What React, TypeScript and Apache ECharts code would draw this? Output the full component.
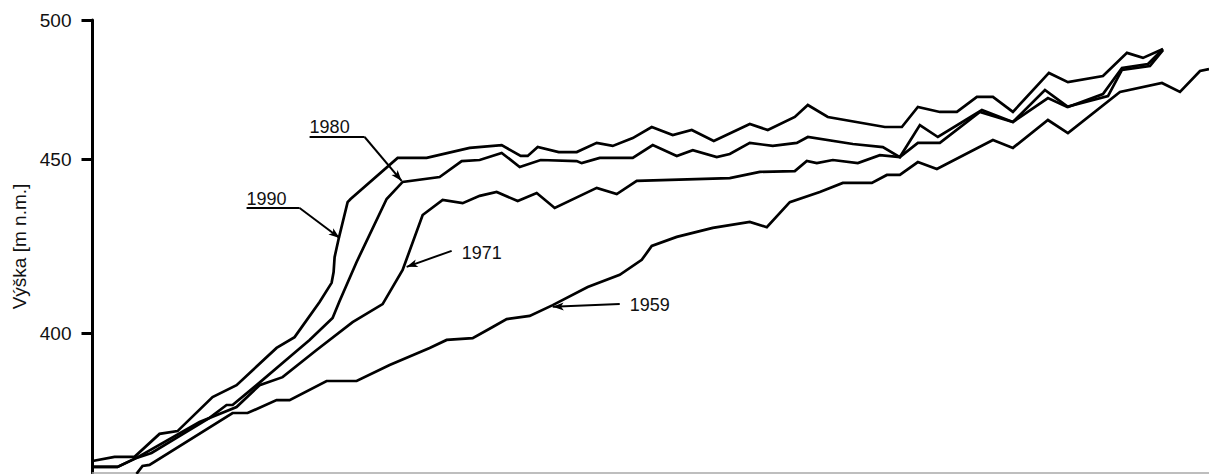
import { useEffect, useRef } from "react";
import * as echarts from "echarts";

// Vertical scale of the original figure is not uniform: 400–450 is drawn larger than 450–500.
const Y_TICKS = [400, 450, 500];
const Y_BREAK = 450;
const UPPER_RATIO = 0.8006;
const Y_MIN = 359.86;
const Y_MAX = 500;
const X_MAX = 1116;

const AXIS_NAME = "Výška [m n.m.]";

// [distance along profile, height m n.m.]
const profile1959: [number, number][] = [
  [44, 359.6], [50, 361.9], [57, 362.2], [140, 377.1], [155, 377.1], [184, 380.8], [197, 380.8],
  [234, 386.3], [264, 386.3], [297, 390.9], [337, 395.8], [354, 398.1], [380, 398.6], [400, 401.8],
  [414, 404.1], [437, 405.0], [460, 408.1], [495, 413.3], [527, 416.8], [549, 421.1], [559, 425.1],
  [584, 427.7], [620, 430.3], [657, 432.0], [674, 430.5], [697, 437.7], [727, 440.6], [750, 443.2],
  [779, 443.2], [794, 445.5], [807, 445.5], [825, 449.2], [844, 447.2], [900, 456.9], [920, 454.1],
  [955, 464.1], [975, 459.4], [1027, 474.2], [1069, 477.4], [1087, 474.2], [1107, 481.7], [1116, 482.4],
];

const profile1971: [number, number][] = [
  [0, 361.6], [25, 361.6], [44, 364.2], [107, 374.5], [144, 378.8], [167, 385.1], [190, 387.4],
  [224, 395.2], [260, 403.2], [290, 408.4], [310, 418.2], [330, 434.0], [350, 438.3], [370, 437.4],
  [387, 439.5], [404, 440.6], [425, 438.0], [444, 440.3], [462, 436.0], [504, 441.8], [524, 440.0],
  [544, 443.8], [637, 444.6], [667, 446.4], [702, 446.6], [714, 449.5], [724, 448.9], [740, 449.8],
  [765, 448.9], [787, 451.5], [807, 450.8], [825, 455.9], [847, 455.9], [887, 467.0], [920, 463.4],
  [955, 472.0], [974, 468.8], [1015, 472.7], [1029, 482.1], [1057, 483.5], [1070, 489.2],
];

const profile1980: [number, number][] = [
  [0, 361.6], [25, 361.6], [44, 364.2], [59, 365.6], [117, 375.7], [134, 379.4], [140, 379.4],
  [164, 385.1], [197, 393.2], [217, 398.1], [240, 404.4], [247, 409.3], [264, 420.5], [294, 438.6],
  [310, 443.5], [347, 444.9], [369, 449.5], [387, 449.8], [409, 452.3], [427, 447.8], [448, 449.8],
  [484, 449.5], [489, 448.9], [507, 450.5], [540, 450.5], [560, 455.1], [584, 451.2], [600, 453.3],
  [624, 450.8], [637, 451.9], [657, 455.9], [680, 454.8], [704, 455.9], [715, 458.0], [760, 455.5],
  [790, 454.4], [807, 450.8], [827, 462.3], [845, 458.0], [889, 467.7], [920, 463.4], [952, 474.9],
  [975, 468.8], [1010, 473.4], [1029, 482.8], [1055, 484.2], [1070, 489.6],
];

const profile1990: [number, number][] = [
  [0, 363.3], [22, 364.5], [42, 364.5], [67, 371.1], [85, 371.9], [120, 381.7], [144, 385.1],
  [184, 395.8], [202, 398.9], [227, 409.0], [239, 414.5], [241, 417.6], [242, 421.9], [246, 427.1],
  [255, 437.7], [258, 438.6], [305, 450.5], [334, 450.5], [377, 454.1], [409, 455.1], [428, 451.2],
  [435, 451.2], [445, 454.4], [466, 452.6], [484, 452.6], [504, 455.9], [520, 454.8], [540, 457.6],
  [559, 461.6], [580, 458.7], [599, 460.5], [621, 456.6], [657, 462.7], [675, 460.5], [702, 465.2],
  [715, 469.5], [735, 465.2], [792, 461.6], [809, 461.6], [825, 468.8], [847, 467.0], [864, 467.0],
  [884, 472.4], [900, 472.4], [920, 467.0], [956, 481.0], [975, 477.7], [1010, 479.9], [1034, 488.2],
  [1050, 486.4], [1070, 489.6],
];

const yearNames = ["1959", "1971", "1980", "1990"];
const profiles = [profile1959, profile1971, profile1980, profile1990];

// annotation text anchors (left edge, vertical centre)
const labelAnchors: [number, number][] = [
  [537, 408.1],
  [369, 423.2],
  [217, 461.6],
  [154, 438.7],
];
// underline segments under labels
const underlines: [[number, number], [number, number]][] = [
  [[217, 458.0], [272, 458.0]],
  [[154, 436.0], [207, 436.0]],
];
// arrows: from -> to (arrow head at "to")
const arrows: [[number, number], [number, number]][] = [
  [[527, 408.4], [460, 407.6]],
  [[359, 423.7], [314, 419.1]],
  [[272, 458.0], [309, 443.8]],
  [[207, 436.0], [247, 427.4]],
];

const toAxis = (v: number) => (v <= Y_BREAK ? v : Y_BREAK + (v - Y_BREAK) * UPPER_RATIO);
const fromAxis = (a: number) => (a <= Y_BREAK ? a : Y_BREAK + (a - Y_BREAK) / UPPER_RATIO);
const pt = (p: [number, number]) => [p[0], toAxis(p[1])];

const FONT = "'Liberation Sans', Arial, sans-serif";

export default function App() {
  const ref = useRef<HTMLDivElement>(null);
  useEffect(() => {
    if (!ref.current) return;
    const chart = echarts.init(ref.current, undefined, { renderer: "svg" });
    const lineSeries = profiles.map((p, i) => ({
      name: yearNames[i],
      type: "line",
      data: p.map(pt),
      symbol: "none",
      silent: true,
      lineStyle: { color: "#000", width: 2.7, join: "miter" },
      z: 2,
    }));
    const annotationSeries = {
      type: "line",
      data: [],
      silent: true,
      markLine: {
        silent: true,
        animation: false,
        label: { show: false },
        lineStyle: { color: "#000", width: 2, type: "solid" },
        emphasis: { disabled: true },
        symbolSize: [6, 11],
        data: [
          ...underlines.map((u) => [
            { coord: pt(u[0]), symbol: "none" },
            { coord: pt(u[1]), symbol: "none" },
          ]),
          ...arrows.map((a) => [
            { coord: pt(a[0]), symbol: "none" },
            { coord: pt(a[1]), symbol: "arrow" },
          ]),
        ],
      },
      markPoint: {
        silent: true,
        animation: false,
        symbol: "circle",
        symbolSize: 0,
        itemStyle: { color: "transparent" },
        label: {
          show: true,
          position: "right",
          distance: 0,
          color: "#111",
          fontSize: 18,
          fontFamily: FONT,
          formatter: (p: any) => p.name,
        },
        data: labelAnchors.map((a, i) => ({ name: yearNames[i], coord: pt(a) })),
      },
    };
    const tickVals = Y_TICKS.map(toAxis);
    chart.setOption({
      animation: false,
      backgroundColor: "#fff",
      grid: { left: 92.5, right: 0, top: 20, bottom: 1, containLabel: false },
      xAxis: {
        type: "value",
        min: 0,
        max: X_MAX,
        axisLine: { show: true, onZero: false, lineStyle: { color: "#a8a8a8", width: 1.5 } },
        axisTick: { show: false },
        axisLabel: { show: false },
        splitLine: { show: false },
      },
      yAxis: {
        type: "value",
        min: toAxis(Y_MIN),
        max: toAxis(Y_MAX),
        name: AXIS_NAME,
        nameLocation: "middle",
        nameGap: 50,
        nameTextStyle: { fontSize: 19, fontFamily: FONT, color: "#111" },
        axisLine: { show: true, lineStyle: { color: "#000", width: 3 } },
        axisTick: {
          show: true,
          length: 11,
          customValues: tickVals,
          lineStyle: { color: "#000", width: 3 },
        },
        axisLabel: {
          show: true,
          customValues: tickVals,
          margin: 21,
          fontSize: 19,
          fontFamily: FONT,
          color: "#111",
          formatter: (v: number) => String(Math.round(fromAxis(v))),
        },
        splitLine: { show: false },
      },
      series: [...lineSeries, annotationSeries],
    });
    return () => chart.dispose();
  }, []);
  return (
    <div
      ref={ref}
      style={{ position: "absolute", left: 0, top: 0, width: 1209, height: 474, background: "#fff" }}
    />
  );
}
